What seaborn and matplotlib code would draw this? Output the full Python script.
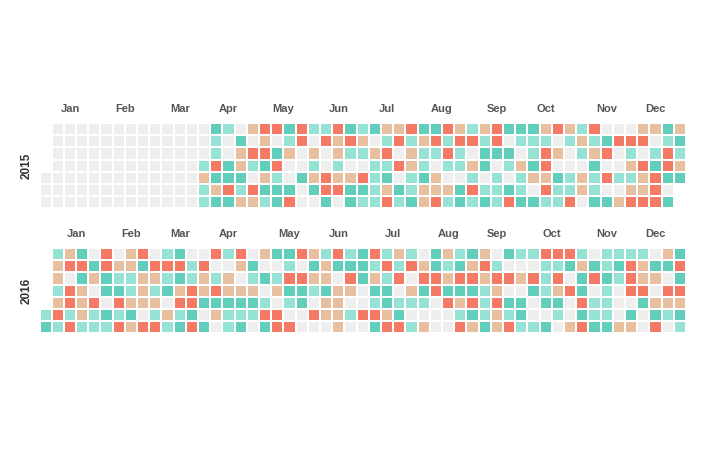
import numpy as np
import pandas as pd
import matplotlib
matplotlib.use("Agg")
import matplotlib.pyplot as plt
import seaborn as sns
from matplotlib.colors import ListedColormap

# one string per weekday row (Sun..Sat), one letter per day of that weekday, in date order
# G = no value, L/T/P/R = level 1..4
days_2015 = [
    "GGGGGGGGGGGGG" + "TLG" + "PRRTRLLRTLTPPRTTRP" + "LPRTTTPRPLRGGGPPTP",
    "GGGGGGGGGGGGG" + "LGT" + "GPGLRGRPRPGLRLPRLR" + "RLRGLLLGLPLTRRRGLT",
    "GGGGGGGGGGGGG" + "LGP" + "RRTPGPGPLLPRGPLLRL" + "GTTTGLRPGLPRGLGLRL",
    "GGGGGGGGGGGG" + "LRTP" + "LTRGGLGLGGLLRPLGLL" + "PTGLPTRGGGTGGPRTRP",
    "GGGGGGGGGGGGG" + "PTTT" + "GPLGTPRPPRLTGLTPGG" + "LGLGLPPTLPLRLLPRTT",
    "GGGGGGGGGGGGG" + "LPRL" + "RTTTGTRRTTLPTLPPPT" + "RLLTLGRLLPLGGPPRG",
    "GGGGGGGGGGGGG" + "LTTP" + "PLTRGGTGTLLRLTPRLT" + "LTLRTTLLRGTTPRRRT",
]
days_2016 = [
    "LPTGRGPRGLTGGRLR" + "GPTTRPLRLTRLPLGTPL" + "TPGTLLRRRLGLLLLGPT",
    "PRRTRPPTRRRLRGGP" + "TGGLGTPTTTLRLRPTLT" + "PRLGGGLLTPTLTRPTTR",
    "PGTPTLLPPLTLPLPG" + "LTLRRPPGRTPLRGRRPR" + "RPRRPRLRGTRTLRPPGT",
    "LRPGTTLPLTPRPRPP" + "PGPTTLTPPGTTGPTRTT" + "TLPGGTLPRTGLGRRGRR",
    "PRPRGRPPPGRRTTTT" + "TLGLTGPPGGLTLLLGRP" + "RLRTTGTTGRLLGGTPPP",
    "LRLPLTLTGLPLTGPLL" + "LRRGGRPPLRRPTGGGGL" + "TLPLTGGLGTLLGTGTLT",
    "TLRLLLRPRRLTRTGLT" + "GTRRGGGPGGTRRLPGGR" + "PTPRLLTGPRTTPPGRGL",
]
years = [2015, 2016]
year_days = [days_2015, days_2016]
level_codes = {"G": 0, "L": 1, "T": 2, "P": 3, "R": 4}
level_colors = ["#eeeeee", "#96e2d4", "#60ceba", "#e8c0a0", "#f47a66"]
month_names = ["Jan", "Feb", "Mar", "Apr", "May", "Jun",
               "Jul", "Aug", "Sep", "Oct", "Nov", "Dec"]


def year_frame(year, rows):
    dates = pd.date_range(f"{year}-01-01", f"{year}-12-31")
    df = pd.DataFrame({"date": dates})
    df["weekday"] = (df["date"].dt.dayofweek + 1) % 7  # Sunday first
    offset = df["weekday"].iloc[0]
    df["week"] = (df["date"].dt.dayofyear - 1 + offset) // 7
    df["level"] = np.nan
    for wd, s in enumerate(rows):
        idx = df.index[df["weekday"] == wd]
        df.loc[idx, "level"] = [level_codes[c] for c in s]
    return df


sns.set_style("white")
plt.rcParams["font.family"] = ["Liberation Sans", "DejaVu Sans"]

W, H = 726, 457
fig = plt.figure(figsize=(W / 100, H / 100), dpi=100)
cmap = ListedColormap(level_colors)

left, right = 39.5, 686.0
tops = [123.0, 248.0]
grid_h = 85.4

for year, rows, top in zip(years, year_days, tops):
    df = year_frame(year, rows)
    grid = df.pivot(index="weekday", columns="week", values="level")
    ax = fig.add_axes([left / W, 1 - (top + grid_h) / H, (right - left) / W, grid_h / H])
    sns.heatmap(grid, ax=ax, cmap=cmap, vmin=-0.5, vmax=4.5, cbar=False,
                linewidths=1.2, linecolor="white", square=False)
    ax.set_xticks([])
    ax.set_yticks([])
    ax.set_xlabel("")
    ax.set_ylabel("")
    for m in range(12):
        mdays = df[df["date"].dt.month == m + 1]
        xc = (mdays["week"].iloc[0] + mdays["week"].iloc[-1]) / 2 + 0.5
        ax.text(xc, -1.15, month_names[m], ha="center", va="center",
                fontsize=8, fontweight="bold", color="#555555")
    ax.text(-1.05, 3.5, str(year), rotation=90, ha="center", va="center",
            fontsize=8.5, fontweight="bold", color="#333333")
    for sp in ax.spines.values():
        sp.set_visible(False)

fig.savefig("out.png", dpi=100, facecolor="white")
